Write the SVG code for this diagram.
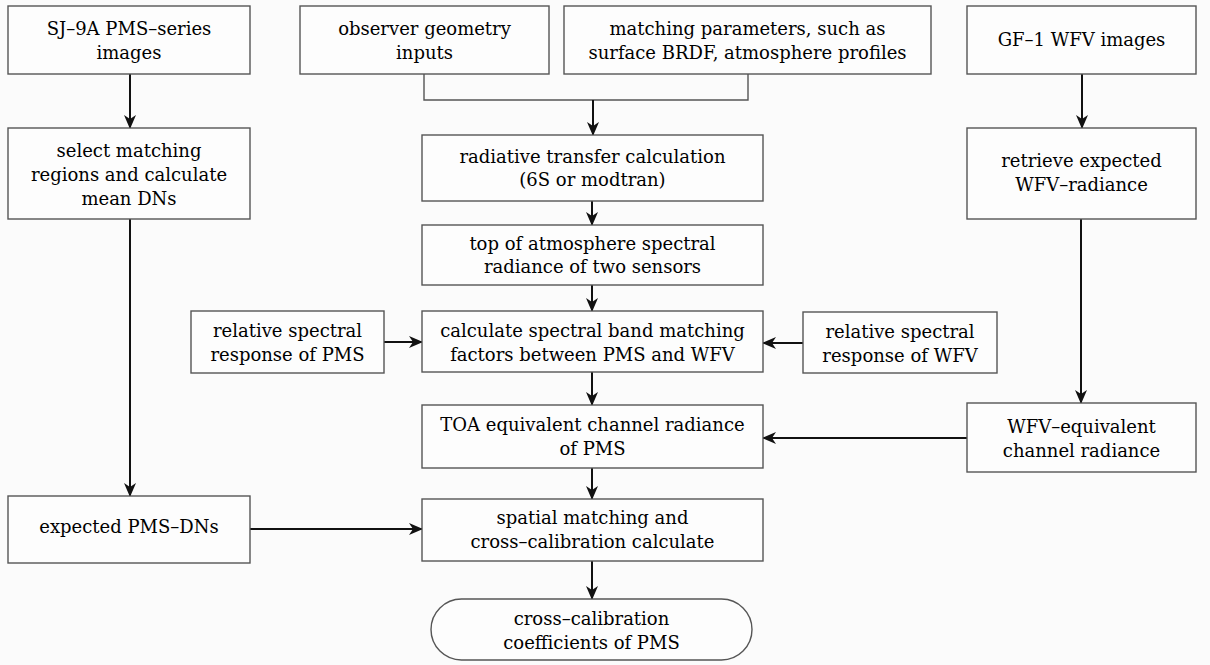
<svg xmlns="http://www.w3.org/2000/svg" width="1210" height="665" viewBox="0 0 1210 665">
<style>
.box{fill:#fdfdfd;stroke:#555;stroke-width:1.4}
.t{font-family:"DejaVu Serif","Liberation Serif",serif;font-size:18px;fill:#000;text-anchor:middle}
.c{stroke:#111;stroke-width:2;fill:none}
.b{stroke:#555;stroke-width:1.4;fill:none}
</style>
<defs>
<marker id="ah" markerUnits="userSpaceOnUse" markerWidth="14" markerHeight="12" viewBox="0 0 14 12" refX="13" refY="6" orient="auto">
<path d="M0,0 L14,6 L0,12 L4,6 z" fill="#111"/>
</marker>
</defs>
<rect x="0" y="0" width="1210" height="665" fill="#fbfbfb"/>

<g id="connectors">
<line class="c" x1="130" y1="74" x2="130" y2="128" marker-end="url(#ah)"/>
<polyline class="b" points="424,74 424,100 748,100 748,74"/>
<line class="c" x1="593" y1="100" x2="593" y2="135" marker-end="url(#ah)"/>
<line class="c" x1="592" y1="201" x2="592" y2="225" marker-end="url(#ah)"/>
<line class="c" x1="592" y1="285" x2="592" y2="311" marker-end="url(#ah)"/>
<line class="c" x1="592" y1="372" x2="592" y2="405" marker-end="url(#ah)"/>
<line class="c" x1="592" y1="468" x2="592" y2="499" marker-end="url(#ah)"/>
<line class="c" x1="592" y1="561" x2="592" y2="599" marker-end="url(#ah)"/>
<line class="c" x1="384" y1="342" x2="422" y2="342" marker-end="url(#ah)"/>
<line class="c" x1="803" y1="343" x2="763" y2="343" marker-end="url(#ah)"/>
<line class="c" x1="1082" y1="74" x2="1082" y2="128" marker-end="url(#ah)"/>
<line class="c" x1="1081" y1="219" x2="1081" y2="403" marker-end="url(#ah)"/>
<line class="c" x1="967" y1="438" x2="763" y2="438" marker-end="url(#ah)"/>
<line class="c" x1="130" y1="219" x2="130" y2="496" marker-end="url(#ah)"/>
<line class="c" x1="250" y1="529" x2="422" y2="529" marker-end="url(#ah)"/>
</g>

<g id="sj9a">
<rect class="box" x="8" y="6" width="242" height="68"/>
<text class="t" x="129" y="35">SJ–9A PMS–series</text>
<text class="t" x="129" y="59">images</text>
</g>
<g id="observer">
<rect class="box" x="300" y="6" width="249" height="68"/>
<text class="t" x="424.5" y="35">observer geometry</text>
<text class="t" x="424.5" y="59">inputs</text>
</g>
<g id="matching">
<rect class="box" x="564" y="6" width="367" height="68"/>
<text class="t" x="747.5" y="35">matching parameters, such as</text>
<text class="t" x="747.5" y="59">surface BRDF, atmosphere profiles</text>
</g>
<g id="gf1">
<rect class="box" x="967" y="6" width="229" height="68"/>
<text class="t" x="1081.5" y="46">GF–1 WFV images</text>
</g>
<g id="select">
<rect class="box" x="8" y="128" width="242" height="91"/>
<text class="t" x="129" y="157">select matching</text>
<text class="t" x="129" y="181">regions and calculate</text>
<text class="t" x="129" y="205">mean DNs</text>
</g>
<g id="radiative">
<rect class="box" x="422" y="135" width="341" height="66"/>
<text class="t" x="592.5" y="163">radiative transfer calculation</text>
<text class="t" x="592.5" y="186">(6S or modtran)</text>
</g>
<g id="retrieve">
<rect class="box" x="967" y="128" width="229" height="91"/>
<text class="t" x="1081.5" y="167">retrieve expected</text>
<text class="t" x="1081.5" y="191">WFV–radiance</text>
</g>
<g id="toa-spectral">
<rect class="box" x="422" y="225" width="341" height="60"/>
<text class="t" x="592.5" y="250">top of atmosphere spectral</text>
<text class="t" x="592.5" y="273">radiance of two sensors</text>
</g>
<g id="rsr-pms">
<rect class="box" x="191" y="311" width="193" height="62"/>
<text class="t" x="287.5" y="337">relative spectral</text>
<text class="t" x="287.5" y="361">response of PMS</text>
</g>
<g id="sbaf">
<rect class="box" x="422" y="311" width="341" height="61"/>
<text class="t" x="592.5" y="337">calculate spectral band matching</text>
<text class="t" x="592.5" y="361">factors between PMS and WFV</text>
</g>
<g id="rsr-wfv">
<rect class="box" x="803" y="312" width="194" height="61"/>
<text class="t" x="900" y="338">relative spectral</text>
<text class="t" x="900" y="362">response of WFV</text>
</g>
<g id="toa-equiv">
<rect class="box" x="422" y="405" width="341" height="63"/>
<text class="t" x="592.5" y="431">TOA equivalent channel radiance</text>
<text class="t" x="592.5" y="455">of PMS</text>
</g>
<g id="wfv-equiv">
<rect class="box" x="967" y="403" width="229" height="69"/>
<text class="t" x="1081.5" y="433">WFV–equivalent</text>
<text class="t" x="1081.5" y="457">channel radiance</text>
</g>
<g id="expected">
<rect class="box" x="8" y="496" width="242" height="67"/>
<text class="t" x="129" y="533">expected PMS–DNs</text>
</g>
<g id="spatial">
<rect class="box" x="422" y="499" width="341" height="62"/>
<text class="t" x="592.5" y="524">spatial matching and</text>
<text class="t" x="592.5" y="548">cross–calibration calculate</text>
</g>
<g id="coefficients">
<rect class="box" x="431" y="599" width="321" height="61" rx="30.5" ry="30.5"/>
<text class="t" x="591.5" y="625">cross–calibration</text>
<text class="t" x="591.5" y="649">coefficients of PMS</text>
</g>
</svg>
